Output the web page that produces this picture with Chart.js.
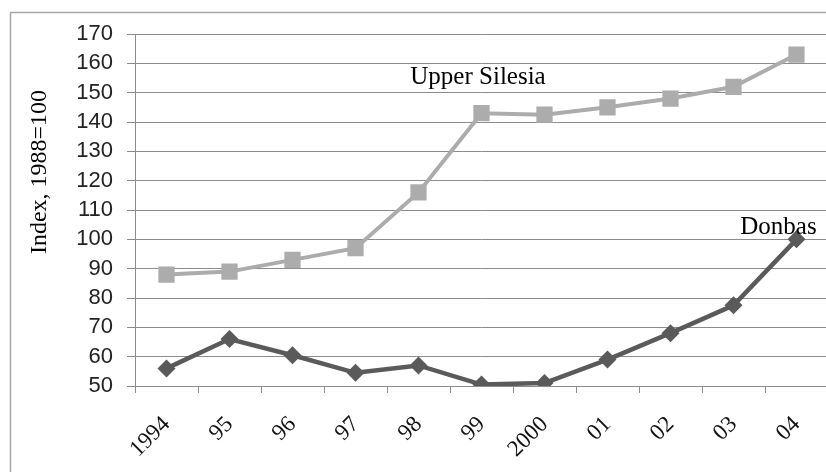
<!DOCTYPE html>
<html>
<head>
<meta charset="utf-8">
<script src="https://cdn.jsdelivr.net/npm/chart.js@4/dist/chart.umd.min.js"></script>
<style>
  html, body { margin: 0; padding: 0; background: #ffffff; }
  #wrap { width: 826px; height: 472px; position: relative; }
</style>
</head>
<body>
<div id="wrap"><canvas id="chart" width="826" height="472"></canvas></div>
<script>
// Production index (1988 = 100) for two coal-mining regions
const years = ['1994', '95', '96', '97', '98', '99', '2000', '01', '02', '03', '04'];
const upperSilesia = [88, 89, 93, 97, 116, 143, 142.5, 145, 148, 152, 163];
const donbas = [56, 66, 60.5, 54.5, 57, 50.5, 51, 59, 68, 77.5, 100];
const yTicks = [50, 60, 70, 80, 90, 100, 110, 120, 130, 140, 150, 160, 170];
const seriesNames = ['Upper Silesia', 'Donbas'];
const axisTitle = 'Index, 1988=100';

const serif = '"Liberation Serif", "Times New Roman", serif';
const sans = '"Liberation Sans", Arial, sans-serif';

// The plot runs off the right edge of the frame: widen the plot area
// after layout so the last category band ends just past the canvas.
const plotArea = {
  id: 'plotArea',
  afterLayout(chart) {
    const a = chart.chartArea;
    a.left = 135;
    a.right = 828;
    a.width = a.right - a.left;
    const x = chart.scales.x;
    x.left = a.left;
    x.right = a.right;
    x.width = a.width;
    x.configure();
  }
};

// Frame, axis title and the in-plot series names
const decorations = {
  id: 'decorations',
  beforeDraw(chart) {
    const ctx = chart.ctx;
    ctx.save();
    ctx.strokeStyle = '#a6a6a6';
    ctx.lineWidth = 1.5;
    ctx.beginPath();
    ctx.moveTo(10.5, 480);
    ctx.lineTo(10.5, 12.5);
    ctx.lineTo(830, 12.5);
    ctx.stroke();
    ctx.restore();
  },
  afterDraw(chart) {
    const ctx = chart.ctx;
    const x = chart.scales.x, y = chart.scales.y;
    ctx.save();
    ctx.fillStyle = '#000000';
    ctx.font = '24px ' + serif;
    ctx.textBaseline = 'middle';
    ctx.textAlign = 'center';
    ctx.translate(40, 172);
    ctx.rotate(-Math.PI / 2);
    ctx.fillText(axisTitle, 0, 0);
    ctx.restore();

    ctx.save();
    ctx.fillStyle = '#000000';
    ctx.font = '25px ' + serif;
    ctx.textBaseline = 'alphabetic';
    ctx.textAlign = 'left';
    const band = x.getPixelForValue(1) - x.getPixelForValue(0);
    ctx.fillText(seriesNames[0], x.getPixelForValue(4) - band * 0.13, y.getPixelForValue(153));
    ctx.textAlign = 'right';
    ctx.fillText(seriesNames[1], x.getPixelForValue(10) + band * 0.32, y.getPixelForValue(101.8));
    ctx.restore();
  }
};

new Chart(document.getElementById('chart'), {
  type: 'line',
  data: {
    labels: years,
    datasets: [
      {
        label: seriesNames[0],
        data: upperSilesia,
        borderColor: '#acacac',
        backgroundColor: '#acacac',
        borderWidth: 4,
        pointStyle: 'rect',
        pointRadius: 11.5,
        pointBorderWidth: 0,
        pointBackgroundColor: '#acacac',
        tension: 0
      },
      {
        label: seriesNames[1],
        data: donbas,
        borderColor: '#5a5a5a',
        backgroundColor: '#5a5a5a',
        borderWidth: 4.5,
        pointStyle: 'rectRot',
        pointRadius: 9,
        pointBorderWidth: 0,
        pointBackgroundColor: '#5a5a5a',
        tension: 0
      }
    ]
  },
  options: {
    responsive: false,
    animation: false,
    devicePixelRatio: 1,
    layout: { padding: { left: 0, right: 0, top: 34, bottom: 0 } },
    plugins: {
      legend: { display: false },
      tooltip: { enabled: false }
    },
    scales: {
      x: {
        type: 'category',
        offset: true,
        grid: {
          display: true,
          offset: true,
          drawOnChartArea: false,
          drawTicks: true,
          tickLength: 7,
          color: '#8c8c8c',
          lineWidth: 1
        },
        border: { display: true, color: '#8c8c8c', width: 1 },
        ticks: {
          color: '#111111',
          font: { family: serif, size: 23 },
          maxRotation: 45,
          minRotation: 45,
          autoSkip: false,
          padding: 18
        },
        afterFit(scale) {
          scale.height = 86;
          scale.paddingLeft = 0;
          scale.paddingRight = 0;
        }
      },
      y: {
        type: 'linear',
        min: 50,
        max: 170,
        afterBuildTicks(scale) { scale.ticks = yTicks.map(v => ({ value: v })); },
        grid: {
          color: '#8c8c8c',
          lineWidth: 1,
          drawTicks: true,
          tickLength: 8
        },
        border: { display: true, color: '#8c8c8c', width: 1 },
        ticks: {
          color: '#222222',
          font: { family: sans, size: 22 },
          padding: 14,
          autoSkip: false
        },
        afterFit(scale) {
          scale.width = 135;
          scale.paddingTop = 0;
          scale.paddingBottom = 0;
        }
      }
    }
  },
  plugins: [plotArea, decorations]
});
</script>
</body>
</html>
